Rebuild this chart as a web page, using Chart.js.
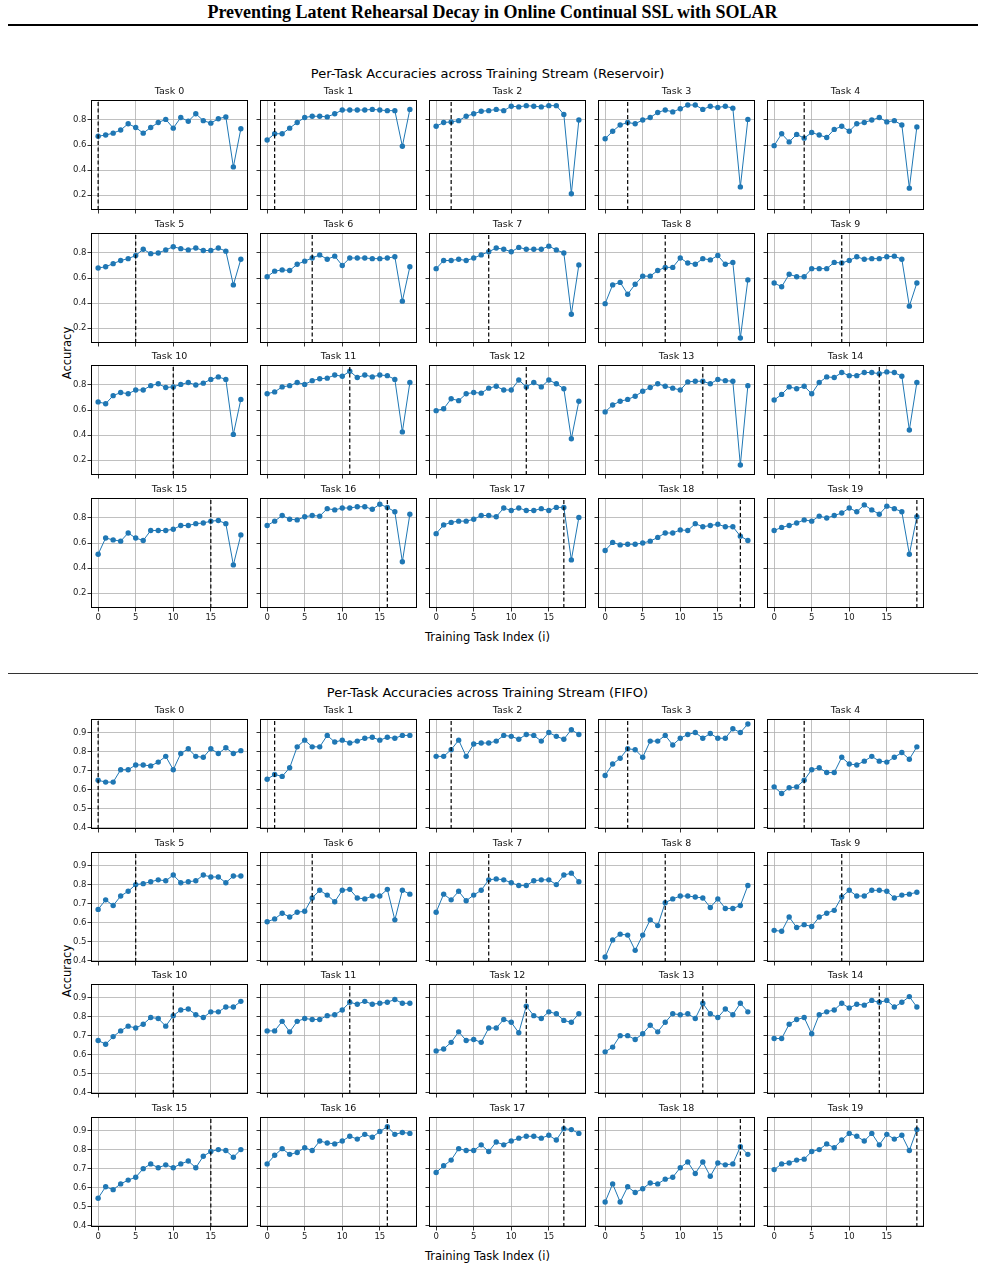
<!DOCTYPE html>
<html>
<head>
<meta charset="utf-8">
<title>Per-Task Accuracies across Training Stream</title>
<script src="https://cdn.jsdelivr.net/npm/chart.js@4.4.1/dist/chart.umd.min.js"></script>
<style>
    body {
        margin: 0;
        background: #fff;
        width: 985px;
        height: 1285px;
        position: relative;
        overflow: hidden;
        font-family: 'DejaVu Sans', sans-serif;
        color: #000;
    }
    .abs { position: absolute; white-space: nowrap; }
    #page-title {
        left: 0; width: 985px; top: 2px; height: 22px; line-height: 22px;
        text-align: center;
        font: bold 18px 'Liberation Serif', 'Times New Roman', serif;
    }
    #rule { left: 8px; width: 970px; top: 24px; height: 2px; background: #000; }
    #sep { left: 8px; width: 970px; top: 673px; height: 1px; background: #333; }
    .suptitle { left: 0; width: 975px; height: 16px; line-height: 16px; text-align: center; font-size: 13px; }
    .xlabel { left: 0; width: 975px; height: 14px; line-height: 14px; text-align: center; font-size: 11.5px; }
    .ylabel { width: 100px; height: 14px; line-height: 14px; text-align: center; font-size: 11.5px; transform: rotate(-90deg); }
    canvas { position: absolute; }
</style>
</head>
<body>
<div id="page-title" class="abs">Preventing Latent Rehearsal Decay in Online Continual SSL with SOLAR</div>
<div id="rule" class="abs"></div>

<div class="abs suptitle" style="top:66px">Per-Task Accuracies across Training Stream (Reservoir)</div>
<div class="abs ylabel" style="left:17px; top:346px">Accuracy</div>
<div class="abs xlabel" style="top:630px">Training Task Index (i)</div>

<div id="sep" class="abs"></div>

<div class="abs suptitle" style="top:685px">Per-Task Accuracies across Training Stream (FIFO)</div>
<div class="abs ylabel" style="left:17px; top:964px">Accuracy</div>
<div class="abs xlabel" style="top:1249px">Training Task Index (i)</div>

<script>
// x positions (training task index) and tick labels
const taskIndex = [0, 1, 2, 3, 4, 5, 6, 7, 8, 9, 10, 11, 12, 13, 14, 15, 16, 17, 18, 19];
const xTicks = [0, 5, 10, 15];
const resYTicks = [0.2, 0.4, 0.6, 0.8];
const fifoYTicks = [0.4, 0.5, 0.6, 0.7, 0.8, 0.9];

// accuracy of task k (row) after training on task i (column), reservoir buffer
const reservoirAcc = [
    [0.67, 0.68, 0.695, 0.72, 0.77, 0.74, 0.695, 0.74, 0.78, 0.805, 0.735, 0.82, 0.79, 0.85, 0.795, 0.775, 0.81, 0.825, 0.425, 0.73],
    [0.64, 0.69, 0.69, 0.735, 0.78, 0.82, 0.83, 0.83, 0.825, 0.85, 0.88, 0.88, 0.88, 0.88, 0.885, 0.88, 0.875, 0.875, 0.59, 0.885],
    [0.75, 0.78, 0.785, 0.795, 0.83, 0.85, 0.87, 0.875, 0.885, 0.875, 0.91, 0.905, 0.915, 0.91, 0.905, 0.915, 0.915, 0.845, 0.21, 0.80],
    [0.65, 0.71, 0.76, 0.78, 0.77, 0.80, 0.82, 0.86, 0.88, 0.865, 0.89, 0.92, 0.92, 0.885, 0.91, 0.90, 0.91, 0.895, 0.265, 0.805],
    [0.595, 0.69, 0.625, 0.685, 0.655, 0.70, 0.68, 0.66, 0.725, 0.75, 0.71, 0.77, 0.78, 0.80, 0.82, 0.785, 0.795, 0.76, 0.255, 0.745],
    [0.68, 0.69, 0.715, 0.74, 0.755, 0.78, 0.83, 0.795, 0.80, 0.825, 0.85, 0.835, 0.825, 0.84, 0.82, 0.82, 0.84, 0.815, 0.545, 0.75],
    [0.61, 0.655, 0.665, 0.66, 0.71, 0.735, 0.76, 0.785, 0.75, 0.775, 0.70, 0.76, 0.76, 0.76, 0.755, 0.755, 0.76, 0.77, 0.415, 0.69],
    [0.675, 0.74, 0.74, 0.75, 0.74, 0.76, 0.785, 0.81, 0.84, 0.83, 0.81, 0.845, 0.83, 0.83, 0.83, 0.855, 0.825, 0.80, 0.31, 0.705],
    [0.395, 0.545, 0.565, 0.47, 0.55, 0.615, 0.615, 0.66, 0.685, 0.685, 0.76, 0.72, 0.71, 0.755, 0.745, 0.78, 0.71, 0.725, 0.12, 0.585],
    [0.56, 0.53, 0.63, 0.61, 0.61, 0.675, 0.675, 0.675, 0.725, 0.72, 0.74, 0.77, 0.75, 0.755, 0.755, 0.77, 0.775, 0.75, 0.375, 0.56],
    [0.665, 0.65, 0.715, 0.74, 0.73, 0.76, 0.76, 0.795, 0.81, 0.78, 0.785, 0.805, 0.82, 0.80, 0.815, 0.845, 0.865, 0.845, 0.405, 0.685],
    [0.73, 0.745, 0.785, 0.795, 0.82, 0.805, 0.835, 0.85, 0.855, 0.88, 0.87, 0.91, 0.86, 0.88, 0.865, 0.88, 0.875, 0.845, 0.425, 0.82],
    [0.595, 0.61, 0.69, 0.675, 0.73, 0.74, 0.735, 0.775, 0.79, 0.76, 0.76, 0.84, 0.785, 0.82, 0.785, 0.84, 0.81, 0.77, 0.37, 0.67],
    [0.585, 0.64, 0.67, 0.685, 0.71, 0.75, 0.78, 0.81, 0.79, 0.775, 0.76, 0.825, 0.83, 0.83, 0.81, 0.845, 0.835, 0.83, 0.16, 0.795],
    [0.68, 0.725, 0.785, 0.77, 0.79, 0.73, 0.82, 0.865, 0.86, 0.90, 0.875, 0.875, 0.90, 0.90, 0.89, 0.905, 0.90, 0.87, 0.44, 0.82],
    [0.51, 0.64, 0.625, 0.615, 0.68, 0.64, 0.62, 0.70, 0.70, 0.70, 0.71, 0.74, 0.74, 0.755, 0.76, 0.775, 0.78, 0.755, 0.425, 0.665],
    [0.74, 0.775, 0.82, 0.79, 0.785, 0.81, 0.82, 0.815, 0.875, 0.865, 0.88, 0.88, 0.89, 0.89, 0.87, 0.91, 0.885, 0.85, 0.45, 0.83],
    [0.675, 0.745, 0.765, 0.775, 0.775, 0.79, 0.82, 0.82, 0.81, 0.88, 0.86, 0.88, 0.86, 0.86, 0.875, 0.86, 0.885, 0.885, 0.465, 0.805],
    [0.54, 0.605, 0.585, 0.59, 0.59, 0.60, 0.615, 0.645, 0.68, 0.68, 0.705, 0.70, 0.755, 0.73, 0.74, 0.75, 0.73, 0.73, 0.655, 0.62],
    [0.70, 0.725, 0.74, 0.76, 0.785, 0.775, 0.815, 0.80, 0.82, 0.84, 0.88, 0.85, 0.905, 0.865, 0.83, 0.895, 0.875, 0.85, 0.51, 0.81]
];

// same, FIFO buffer
const fifoAcc = [
    [0.65, 0.64, 0.64, 0.705, 0.705, 0.73, 0.73, 0.725, 0.745, 0.775, 0.705, 0.79, 0.815, 0.775, 0.77, 0.815, 0.79, 0.82, 0.79, 0.805],
    [0.655, 0.68, 0.67, 0.715, 0.825, 0.86, 0.825, 0.825, 0.885, 0.85, 0.86, 0.845, 0.855, 0.87, 0.875, 0.86, 0.875, 0.87, 0.885, 0.885],
    [0.775, 0.775, 0.81, 0.86, 0.775, 0.84, 0.845, 0.845, 0.855, 0.885, 0.88, 0.865, 0.89, 0.885, 0.855, 0.90, 0.88, 0.865, 0.915, 0.89],
    [0.675, 0.735, 0.765, 0.815, 0.81, 0.77, 0.855, 0.855, 0.885, 0.835, 0.87, 0.89, 0.90, 0.87, 0.895, 0.87, 0.87, 0.92, 0.90, 0.945],
    [0.615, 0.58, 0.61, 0.615, 0.65, 0.705, 0.715, 0.69, 0.69, 0.77, 0.735, 0.73, 0.75, 0.775, 0.75, 0.745, 0.77, 0.795, 0.76, 0.825],
    [0.67, 0.72, 0.69, 0.74, 0.765, 0.80, 0.805, 0.815, 0.825, 0.82, 0.85, 0.81, 0.815, 0.82, 0.85, 0.84, 0.84, 0.81, 0.845, 0.845],
    [0.605, 0.62, 0.65, 0.63, 0.655, 0.66, 0.73, 0.77, 0.745, 0.71, 0.77, 0.775, 0.73, 0.725, 0.74, 0.74, 0.775, 0.615, 0.77, 0.75],
    [0.655, 0.75, 0.72, 0.765, 0.715, 0.745, 0.77, 0.825, 0.83, 0.825, 0.81, 0.795, 0.795, 0.82, 0.825, 0.825, 0.80, 0.85, 0.86, 0.815],
    [0.42, 0.51, 0.54, 0.535, 0.455, 0.535, 0.615, 0.585, 0.705, 0.725, 0.74, 0.74, 0.735, 0.73, 0.68, 0.725, 0.675, 0.675, 0.69, 0.795],
    [0.56, 0.555, 0.63, 0.575, 0.59, 0.58, 0.63, 0.65, 0.665, 0.735, 0.77, 0.74, 0.74, 0.77, 0.77, 0.765, 0.73, 0.745, 0.75, 0.76],
    [0.675, 0.655, 0.695, 0.725, 0.75, 0.74, 0.76, 0.795, 0.79, 0.75, 0.805, 0.835, 0.84, 0.81, 0.795, 0.825, 0.825, 0.85, 0.85, 0.88],
    [0.725, 0.725, 0.775, 0.72, 0.775, 0.79, 0.785, 0.785, 0.805, 0.81, 0.835, 0.875, 0.865, 0.88, 0.865, 0.87, 0.875, 0.89, 0.87, 0.87],
    [0.62, 0.63, 0.665, 0.72, 0.675, 0.68, 0.665, 0.74, 0.74, 0.785, 0.77, 0.715, 0.855, 0.805, 0.79, 0.825, 0.815, 0.78, 0.77, 0.815],
    [0.615, 0.64, 0.70, 0.70, 0.68, 0.71, 0.755, 0.72, 0.77, 0.815, 0.81, 0.815, 0.79, 0.87, 0.815, 0.795, 0.84, 0.81, 0.87, 0.825],
    [0.685, 0.685, 0.76, 0.785, 0.795, 0.71, 0.81, 0.825, 0.835, 0.87, 0.845, 0.865, 0.86, 0.885, 0.875, 0.885, 0.85, 0.875, 0.905, 0.85],
    [0.545, 0.605, 0.59, 0.62, 0.64, 0.655, 0.70, 0.725, 0.705, 0.72, 0.705, 0.725, 0.74, 0.705, 0.765, 0.79, 0.80, 0.795, 0.76, 0.80],
    [0.725, 0.77, 0.805, 0.775, 0.785, 0.81, 0.795, 0.845, 0.835, 0.83, 0.845, 0.87, 0.855, 0.88, 0.865, 0.895, 0.92, 0.88, 0.89, 0.885],
    [0.68, 0.715, 0.745, 0.805, 0.795, 0.795, 0.825, 0.79, 0.84, 0.825, 0.845, 0.86, 0.87, 0.87, 0.86, 0.875, 0.85, 0.91, 0.905, 0.885],
    [0.525, 0.62, 0.525, 0.605, 0.575, 0.595, 0.625, 0.62, 0.645, 0.655, 0.705, 0.735, 0.675, 0.735, 0.66, 0.73, 0.72, 0.725, 0.815, 0.775],
    [0.695, 0.725, 0.73, 0.745, 0.75, 0.79, 0.80, 0.83, 0.81, 0.85, 0.885, 0.87, 0.845, 0.885, 0.825, 0.88, 0.855, 0.875, 0.795, 0.905]
];

// shared axis limits (matplotlib sharey/sharex)
const resYRange = [0.08, 0.96];
const fifoYRange = [0.394, 0.971];
const xRange = [-0.95, 19.95];

// panel geometry (plot area), px
const colLeft = [91, 260, 429, 598, 767];
const resRowTop = [100, 233, 365, 498];
const fifoRowTop = [719, 852, 984, 1117];
const plotW = 157, plotH = 110;
const padL = 30, padT = 16, padB = 18, padR = 3;

Chart.defaults.font.family = "'DejaVu Sans', sans-serif";
Chart.defaults.color = '#222';

// black box around each axes (matplotlib spines)
const spinesPlugin = {
    id: 'spines',
    afterDatasetsDraw(chart) {
        const a = chart.chartArea;
        const ctx = chart.ctx;
        ctx.save();
        ctx.strokeStyle = '#000';
        ctx.lineWidth = 1;
        ctx.strokeRect(a.left + 0.5, a.top + 0.5, a.right - a.left - 1, a.bottom - a.top - 1);
        ctx.restore();
    }
};

function makePanel(left, top, task, values, yRange, yTicks, showY, showX) {
    const canvas = document.createElement('canvas');
    canvas.width = padL + plotW + padR;
    canvas.height = padT + plotH + padB;
    canvas.style.left = (left - padL) + 'px';
    canvas.style.top = (top - padT) + 'px';
    document.body.appendChild(canvas);

    const gridOpts = {
        color: '#b0b0b0',
        lineWidth: 0.8,
        tickLength: 3.5,
        tickColor: '#000',
        tickWidth: 0.8
    };

    new Chart(canvas, {
        type: 'line',
        data: {
            datasets: [{
                // current task marker
                data: [{ x: task, y: yRange[0] }, { x: task, y: yRange[1] }],
                borderColor: '#000',
                borderWidth: 1.2,
                borderDash: [4, 2.5],
                pointRadius: 0,
                fill: false
            }, {
                data: taskIndex.map((t, i) => ({ x: t, y: values[i] })),
                borderColor: '#1f77b4',
                backgroundColor: '#1f77b4',
                borderWidth: 1,
                pointRadius: 2.7,
                pointBorderWidth: 0,
                tension: 0,
                fill: false
            }]
        },
        options: {
            responsive: false,
            animation: false,
            events: [],
            layout: { padding: { top: 0, right: padR, bottom: 0, left: 0 }, autoPadding: false },
            plugins: {
                legend: { display: false },
                tooltip: { enabled: false },
                title: {
                    display: true,
                    fullSize: false,
                    text: 'Task ' + task,
                    color: '#111',
                    font: { size: 9.5, weight: 'normal', lineHeight: '11px' },
                    padding: { top: 2, bottom: 3 }
                }
            },
            scales: {
                x: {
                    type: 'linear',
                    min: xRange[0],
                    max: xRange[1],
                    afterBuildTicks: s => { s.ticks = xTicks.map(v => ({ value: v })); },
                    afterFit: s => { s.height = padB; },
                    ticks: { display: showX, font: { size: 8.5 }, padding: 1.5, maxRotation: 0, autoSkip: false },
                    grid: gridOpts,
                    border: { display: false }
                },
                y: {
                    type: 'linear',
                    min: yRange[0],
                    max: yRange[1],
                    afterBuildTicks: s => { s.ticks = yTicks.map(v => ({ value: v })); },
                    afterFit: s => { s.width = padL; },
                    ticks: { display: showY, font: { size: 8.5 }, padding: 1, callback: v => v.toFixed(1) },
                    grid: gridOpts,
                    border: { display: false }
                }
            }
        },
        plugins: [spinesPlugin]
    });
}

function makeGrid(rowTops, accs, yRange, yTicks) {
    accs.forEach((values, task) => {
        const row = Math.floor(task / 5);
        const col = task % 5;
        makePanel(colLeft[col], rowTops[row], task, values, yRange, yTicks, col === 0, row === 3);
    });
}

makeGrid(resRowTop, reservoirAcc, resYRange, resYTicks);
makeGrid(fifoRowTop, fifoAcc, fifoYRange, fifoYTicks);
</script>
</body>
</html>
